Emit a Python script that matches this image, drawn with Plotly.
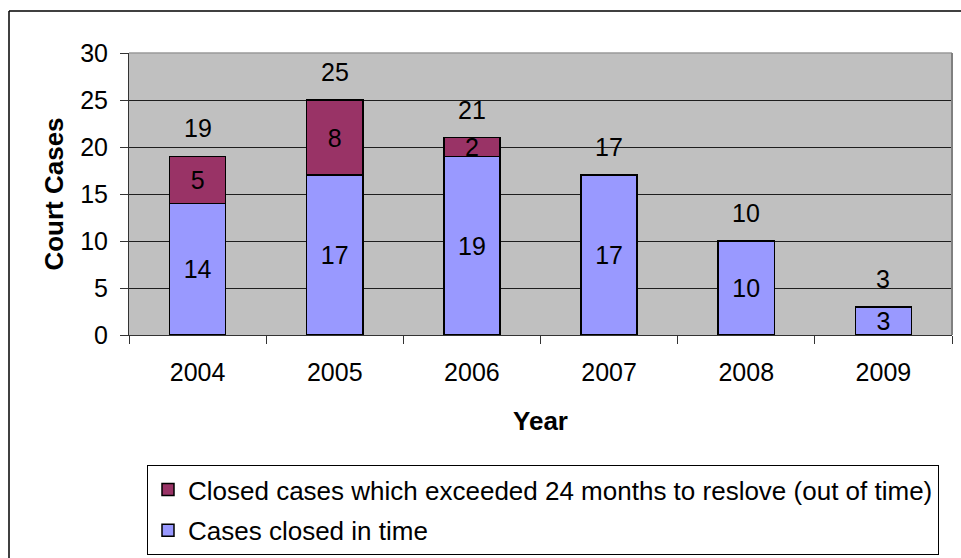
import plotly.graph_objects as go

years = ["2004", "2005", "2006", "2007", "2008", "2009"]
in_time = [14, 17, 19, 17, 10, 3]
out_of_time = [5, 8, 2, 0, 0, 0]
totals = [a + b for a, b in zip(in_time, out_of_time)]

name_out = "Closed cases which exceeded 24 months to reslove (out of time)"
name_in = "Cases closed in time"

W, H = 961, 558
L, R, T, B = 129, 952, 53, 335  # plot area in pixels
FONT = "Liberation Sans, Arial, sans-serif"


def px_x(x):
    return (x - L) / (R - L)


def px_y(y):
    return (B - y) / (B - T)


fig = go.Figure()
fig.add_trace(go.Bar(
    x=years, y=in_time, name=name_in,
    marker=dict(color="#9999FF", line=dict(color="black", width=1.5)),
    text=[str(v) if v else "" for v in in_time],
    textposition="inside", insidetextanchor="middle",
    constraintext="none", textangle=0,
    textfont=dict(size=25, color="black", family=FONT),
    width=0.41, legendrank=2, legendgroup="b",
))
fig.add_trace(go.Bar(
    x=years, y=out_of_time, name=name_out,
    marker=dict(color="#993366", line=dict(color="black", width=1.5)),
    text=[str(v) if v else "" for v in out_of_time],
    textposition="inside", insidetextanchor="middle",
    constraintext="none", textangle=0,
    textfont=dict(size=25, color="black", family=FONT),
    width=0.41, legendrank=1, legendgroup="a",
))

for i, tot in enumerate(totals):
    fig.add_annotation(x=i, y=tot, xref="x", yref="y", text=str(tot),
                       showarrow=False, yshift=28,
                       font=dict(size=25, color="black", family=FONT))

shapes = [
    # outer chart frame (left and top edges visible)
    dict(type="line", xref="paper", yref="paper", x0=px_x(9), x1=px_x(975),
         y0=px_y(11), y1=px_y(11), line=dict(color="black", width=1.5)),
    dict(type="line", xref="paper", yref="paper", x0=px_x(9), x1=px_x(9),
         y0=px_y(11), y1=px_y(575), line=dict(color="black", width=1.5)),
    # plot area top and right borders
    dict(type="line", xref="paper", yref="paper", x0=0, x1=1, y0=1, y1=1,
         line=dict(color="#9a9a9a", width=1.5)),
    dict(type="line", xref="paper", yref="paper", x0=1, x1=1, y0=0, y1=1,
         line=dict(color="#808080", width=2)),
]

fig.update_layout(
    width=W, height=H,
    margin=dict(l=L, r=W - R, t=T, b=H - B, autoexpand=False),
    paper_bgcolor="white", plot_bgcolor="#C0C0C0",
    barmode="stack",
    font=dict(family=FONT, size=25, color="black"),
    showlegend=True,
    legend=dict(
        x=px_x(147), y=px_y(465), xanchor="left", yanchor="top",
        bgcolor="white", bordercolor="black", borderwidth=1,
        font=dict(size=26, family=FONT, color="black"),
        traceorder="grouped", tracegroupgap=4,
        itemclick=False,
    ),
    shapes=shapes,
)

fig.update_xaxes(
    type="category", range=[-0.5, len(years) - 0.5], automargin=False,
    tickson="boundaries", ticks="outside", ticklen=8, tickangle=0,
    tickcolor="#333", showline=True, linecolor="#333", linewidth=1,
    showgrid=False, tickfont=dict(size=25, family=FONT),
    ticklabelstandoff=15,
    title=dict(text="<b>Year</b>", font=dict(size=26, family=FONT), standoff=26),
)
fig.update_yaxes(
    range=[0, 30], dtick=5, ticks="outside", ticklen=8, tickcolor="#333",
    showline=True, linecolor="#333", linewidth=1, automargin=False,
    showgrid=True, gridcolor="#1e1e1e", gridwidth=1, zeroline=False,
    tickfont=dict(size=25, family=FONT), ticklabelstandoff=7,
    title=dict(text="<b>Court Cases</b>", font=dict(size=26, family=FONT), standoff=9),
)

fig.write_html("out.html")
